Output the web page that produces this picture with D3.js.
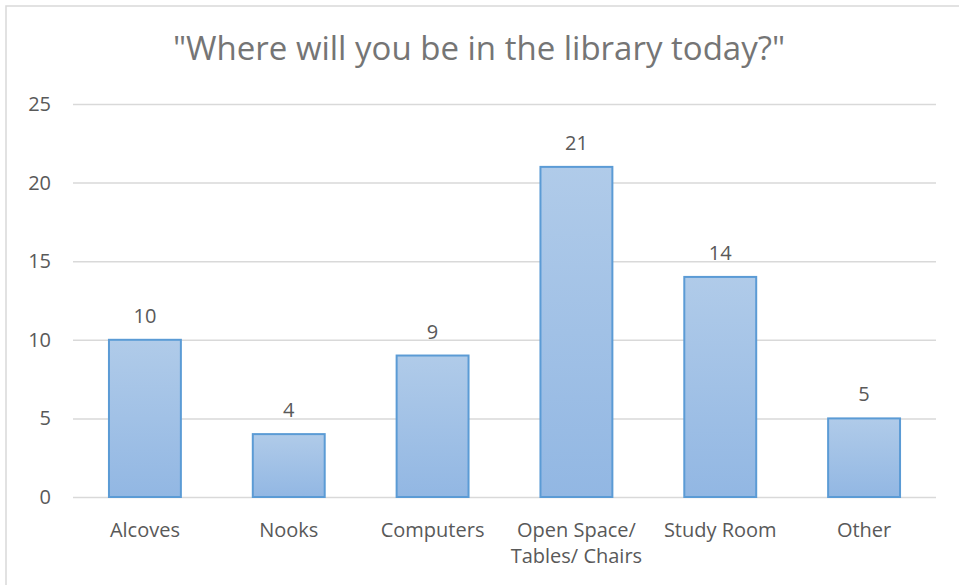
<!DOCTYPE html>
<html>
<head>
<meta charset="utf-8">
<script src="https://cdn.jsdelivr.net/npm/d3@7"></script>
<style>
  html, body { margin: 0; padding: 0; background: #fff; }
  svg text { font-family: "Open Sans", "Noto Sans", sans-serif; fill: #595959; }
</style>
</head>
<body>
<svg id="chart" width="959" height="585"></svg>
<script>
// Survey answers: where visitors plan to be in the library
const categories = ["Alcoves", "Nooks", "Computers", "Open Space/\nTables/ Chairs", "Study Room", "Other"];
const counts = [10, 4, 9, 21, 14, 5];
const yTicks = [0, 5, 10, 15, 20, 25];
const title = "\"Where will you be in the library today?\"";

const svg = d3.select("#chart");
const W = 959, H = 585;
const margin = { left: 73, right: 23, top: 104, bottom: 88 };

// outer chart frame
svg.append("rect")
  .attr("x", 6).attr("y", 6)
  .attr("width", W + 10).attr("height", H + 10)
  .attr("fill", "none").attr("stroke", "#d9d9d9").attr("stroke-width", 1.5);

const x = d3.scaleBand()
  .domain(categories)
  .range([margin.left, W - margin.right])
  .paddingInner(0.5).paddingOuter(0.25);

const y = d3.scaleLinear()
  .domain([0, 25])
  .range([H - margin.bottom, margin.top]);

// gradient fill for the bars
const defs = svg.append("defs");
const grad = defs.append("linearGradient")
  .attr("id", "barFill").attr("x1", 0).attr("y1", 0).attr("x2", 0).attr("y2", 1);
grad.append("stop").attr("offset", "0%").attr("stop-color", "#b0cbe9");
grad.append("stop").attr("offset", "100%").attr("stop-color", "#92b7e3");

// horizontal gridlines
const yAxis = d3.axisLeft(y).tickValues(yTicks).tickSize(-(W - margin.left - margin.right)).tickPadding(22);
const gy = svg.append("g").attr("transform", `translate(${margin.left},0)`).call(yAxis);
gy.select(".domain").remove();
gy.selectAll(".tick line").attr("stroke", "#d9d9d9").attr("stroke-width", 1.5);
gy.selectAll(".tick text").attr("font-size", 20).attr("fill", "#595959")
  .attr("font-family", "'Open Sans', sans-serif");

// bars
svg.append("g").selectAll("rect")
  .data(categories)
  .join("rect")
  .attr("x", d => x(d))
  .attr("y", (d, i) => y(counts[i]))
  .attr("width", x.bandwidth())
  .attr("height", (d, i) => y(0) - y(counts[i]))
  .attr("fill", "url(#barFill)")
  .attr("stroke", "#5b9bd5")
  .attr("stroke-width", 2);

// value labels
svg.append("g").selectAll("text")
  .data(categories)
  .join("text")
  .attr("x", d => x(d) + x.bandwidth() / 2)
  .attr("y", (d, i) => y(counts[i]) - 17)
  .attr("text-anchor", "middle")
  .attr("font-size", 20)
  .text((d, i) => counts[i]);

// category labels (multi-line where needed)
const xl = svg.append("g").selectAll("text")
  .data(categories)
  .join("text")
  .attr("x", d => x(d) + x.bandwidth() / 2)
  .attr("y", y(0) + 40)
  .attr("text-anchor", "middle")
  .attr("font-size", 20);
xl.each(function(d) {
  const lines = d.split("\n");
  const t = d3.select(this);
  lines.forEach((line, k) => {
    t.append("tspan")
      .attr("x", t.attr("x"))
      .attr("dy", k === 0 ? 0 : 26)
      .text(line);
  });
});

// title
svg.append("text")
  .attr("x", 479).attr("y", 60)
  .attr("text-anchor", "middle")
  .attr("font-size", 33)
  .style("fill", "#757575")
  .text(title);
</script>
</body>
</html>
